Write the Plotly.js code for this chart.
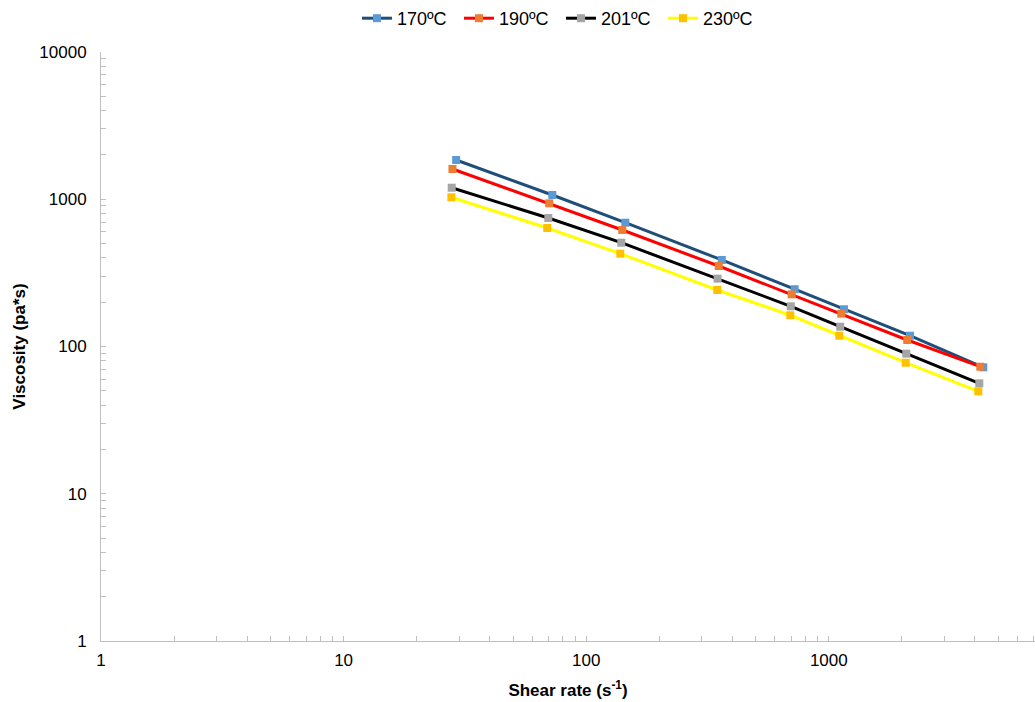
<!DOCTYPE html>
<html>
<head>
<meta charset="utf-8">
<script src="https://cdn.plot.ly/plotly-3.0.1.min.js"></script>
<style>
html,body{margin:0;padding:0;background:#fff;overflow:hidden;}
#chart{width:1035px;height:702px;}
</style>
</head>
<body>
<div id="chart"></div>
<script>
// Data
const seriesNames = ["170ºC", "190ºC", "201ºC", "230ºC"];
const shear170 = [29.1, 72.5, 145, 362, 723, 1155, 2161, 4335];
const visc170  = [1848, 1069, 693, 387, 245, 179, 118.4, 72.2];
const shear190 = [28.1, 70.4, 140.9, 351.7, 703, 1126, 2106, 4212];
const visc190  = [1605, 938, 618, 352, 226, 167, 110.7, 72.9];
const shear201 = [27.9, 69.8, 139.5, 348, 697, 1115, 2087, 4173];
const visc201  = [1198, 746, 507, 289, 187.5, 136.3, 89.4, 56.2];
const shear230 = [27.8, 69.1, 138.2, 347, 694, 1105, 2075, 4132];
const visc230  = [1031, 638, 427, 242, 163, 118.4, 77.6, 49.6];

const xTickVals = [];
const xTickText = [];
[1, 10, 100, 1000].forEach(d => {
  for (let k = 1; k <= 9; k++) {
    xTickVals.push(d * k);
    xTickText.push(k === 1 ? String(d) : "");
  }
});
const yTickVals = [];
const yTickText = [];
[1, 10, 100, 1000, 10000].forEach(d => {
  const top = d === 10000 ? 1 : 9;
  for (let k = 1; k <= top; k++) {
    yTickVals.push(d * k);
    yTickText.push(k === 1 ? String(d) : "");
  }
});

const lineColors = ["#1F4E79", "#FF0000", "#000000", "#FFFF00"];
const markerColors = ["#5B9BD5", "#ED7D31", "#A5A5A5", "#FFC000"];
const xs = [shear170, shear190, shear201, shear230];
const ys = [visc170, visc190, visc201, visc230];

const traces = seriesNames.map((n, i) => ({
  type: "scatter",
  mode: "lines+markers",
  name: n,
  x: xs[i],
  y: ys[i],
  line: {color: lineColors[i], width: 3},
  marker: {symbol: "square", size: 8, color: markerColors[i]}
}));

const font = "Liberation Sans, Arial, sans-serif";
const layout = {
  width: 1035,
  height: 702,
  paper_bgcolor: "#ffffff",
  plot_bgcolor: "#ffffff",
  margin: {l: 101, r: 0, t: 52, b: 61, pad: 0},
  font: {family: font, size: 17, color: "#000"},
  showlegend: true,
  legend: {
    orientation: "h",
    xref: "container", yref: "container",
    x: 0.542, xanchor: "center",
    y: 1.0, yanchor: "top",
    font: {family: font, size: 18, color: "#000"},
    itemwidth: 30,
    entrywidth: 57,
    entrywidthmode: "pixels",
    bgcolor: "rgba(0,0,0,0)"
  },
  xaxis: {
    type: "log",
    range: [0, 3.85],
    tickmode: "array",
    tickvals: xTickVals,
    ticktext: xTickText,
    ticks: "inside",
    ticklen: 5,
    tickcolor: "#BFBFBF",
    showline: true,
    linecolor: "#BFBFBF",
    linewidth: 1,
    showgrid: false,
    zeroline: false,
    tickfont: {family: font, size: 17, color: "#000"},
    ticklabelstandoff: 4,
    title: {text: "<b>Shear rate (s<sup>-1</sup>)</b>", font: {family: font, size: 17, color: "#000"}, standoff: 14}
  },
  yaxis: {
    type: "log",
    range: [0, 4],
    tickmode: "array",
    tickvals: yTickVals,
    ticktext: yTickText,
    ticks: "inside",
    ticklen: 5,
    tickcolor: "#BFBFBF",
    showline: true,
    linecolor: "#BFBFBF",
    linewidth: 1,
    showgrid: false,
    zeroline: false,
    tickfont: {family: font, size: 17, color: "#000"},
    ticklabelstandoff: 10,
    title: {text: "<b>Viscosity (pa*s)</b>", font: {family: font, size: 17, color: "#000"}, standoff: 9}
  }
};

Plotly.newPlot("chart", traces, layout, {displayModeBar: false, staticPlot: true});
</script>
</body>
</html>
